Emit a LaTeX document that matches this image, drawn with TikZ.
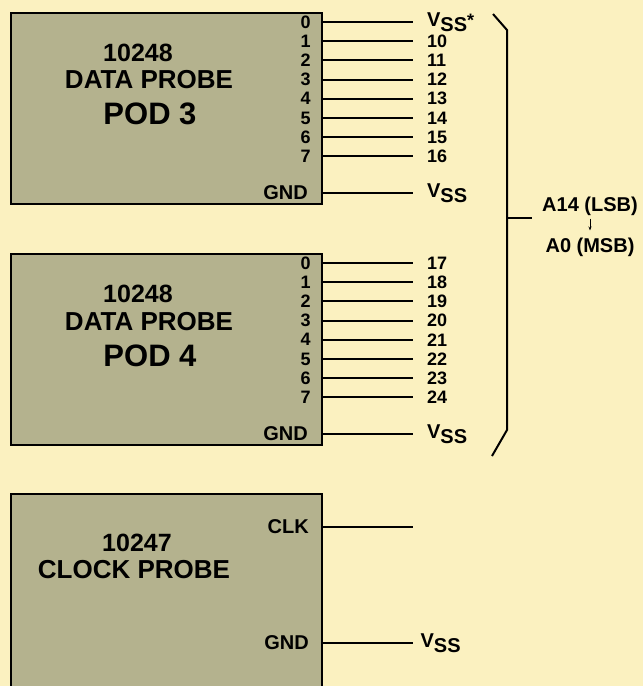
\documentclass[tikz,border=0pt]{standalone}
\usepackage{fontspec}
\setmainfont{Liberation Sans}
\usetikzlibrary{arrows.meta, positioning}
\definecolor{paper}{RGB}{251,241,192}
\definecolor{podfill}{RGB}{180,178,142}

% V with lowered SS, as in the pinout
\newcommand{\vsslbl}{{\fontsize{20}{20}\selectfont V\raisebox{-5pt}{SS}}}

\begin{document}
\begin{tikzpicture}[x=1pt, y=-1pt,
  probe/.style={draw, line width=2.4pt, fill=podfill, anchor=north west, minimum width=311pt, minimum height=191pt, inner sep=0pt},
  ptitle/.style={font=\fontsize{26}{28}\selectfont\bfseries, inner sep=0pt},
  pnum/.style={font=\fontsize{25}{28}\selectfont\bfseries, inner sep=0pt},
  pid/.style={font=\fontsize{31}{34}\selectfont\bfseries, inner sep=0pt},
  pin/.style={font=\fontsize{18}{18}\selectfont\bfseries, inner sep=0pt, anchor=east},
  pinname/.style={font=\fontsize{20}{20}\selectfont\bfseries, inner sep=0pt, anchor=east},
  sig/.style={font=\fontsize{18}{18}\selectfont\bfseries, inner sep=0pt, anchor=west},
  addr/.style={font=\fontsize{20}{20}\selectfont\bfseries, inner sep=0pt},
  wire/.style={line width=2.1pt, shorten >=14pt},
  brace/.style={line width=2pt}
]
  % paper
  \fill[paper] (0,0) rectangle (643,686);
  \useasboundingbox (0,0) rectangle (643,686);
  \clip (0,0) rectangle (643,686);

  % probe boxes
  \node[probe] (pod3) at (9.5,12) {};
  \node[probe] (pod4) at (9.5,253) {};
  \node[probe, minimum height=210pt] (clk) at (9.5,493) {};

  % box titles
  \node[pnum] (pod3num) at (138,53) {10248};
  \node[ptitle] (pod3name) at (149,80) {DATA PROBE};
  \node[pid] (pod3id) at (150,113.5) {POD 3};
  \node[pnum] (pod4num) at (138,294) {10248};
  \node[ptitle] (pod4name) at (149,322) {DATA PROBE};
  \node[pid] (pod4id) at (150,355.5) {POD 4};
  \node[pnum] (clknum) at (137,542.5) {10247};
  \node[ptitle] (clkname) at (134,570) {CLOCK PROBE};

  % pod 3 data lines
  \foreach \i/\lab in {0/{\vsslbl*},1/10,2/11,3/12,4/13,5/14,6/15,7/16}{
    \path (pod3.north east) ++(0,10+19.2*\i) coordinate (p3-\i);
    \node[pin] (n3-\i) at ([xshift=-12pt]p3-\i) {\i};
    \node[sig] (s3-\i) at ([xshift=104pt]p3-\i) {\lab};
    \draw[wire] (p3-\i) -- (s3-\i.west);
  }
  \path (pod3.north east) ++(0,181) coordinate (g3);
  \node[pinname] (gn3) at ([xshift=-15pt]g3) {GND};
  \node[sig] (gv3) at ([xshift=104pt]g3) {\vsslbl};
  \draw[wire] (g3) -- (gv3.west);

  % pod 4 data lines
  \foreach \i/\lab in {0/17,1/18,2/19,3/20,4/21,5/22,6/23,7/24}{
    \path (pod4.north east) ++(0,10+19.2*\i) coordinate (p4-\i);
    \node[pin] (n4-\i) at ([xshift=-12pt]p4-\i) {\i};
    \node[sig] (s4-\i) at ([xshift=104pt]p4-\i) {\lab};
    \draw[wire] (p4-\i) -- (s4-\i.west);
  }
  \path (pod4.north east) ++(0,181) coordinate (g4);
  \node[pinname] (gn4) at ([xshift=-15pt]g4) {GND};
  \node[sig] (gv4) at ([xshift=104pt]g4) {\vsslbl};
  \draw[wire] (g4) -- (gv4.west);

  % clock probe lines
  \path (clk.north east) ++(0,34) coordinate (c-clk);
  \path (clk.north east) ++(0,150) coordinate (c-gnd);
  \node[pinname] (cn-clk) at ([xshift=-14pt]c-clk) {CLK};
  \node[pinname] (cn-gnd) at ([xshift=-14pt]c-gnd) {GND};
  \coordinate (c-end) at ([xshift=90pt]c-clk);
  \draw[wire, shorten >=0pt] (c-clk) -- (c-end);
  \node[sig] (cv-gnd) at ([xshift=97.5pt]c-gnd) {\vsslbl};
  \draw[wire, shorten >=7.5pt] (c-gnd) -- (cv-gnd.west);

  % address bracket
  \coordinate (br-top) at (493,14);
  \coordinate (br-a) at (507,30);
  \coordinate (br-b) at (507,430);
  \coordinate (br-bot) at (492,456);
  \coordinate (br-mid) at (507,218);
  \coordinate (br-tip) at (532,218);
  \draw[brace] (br-top) -- (br-a) -- (br-b) -- (br-bot);
  \draw[brace] (br-mid) -- (br-tip);
  \node[addr] (lsb) at (590,206) {A14 (LSB)};
  \node[addr] (msb) at (590,247) {A0 (MSB)};
  \draw[-{Stealth[length=4pt, width=3pt]}, line width=0.8pt, shorten <=3pt, shorten >=7pt] (lsb) -- (msb);
\end{tikzpicture}
\end{document}
